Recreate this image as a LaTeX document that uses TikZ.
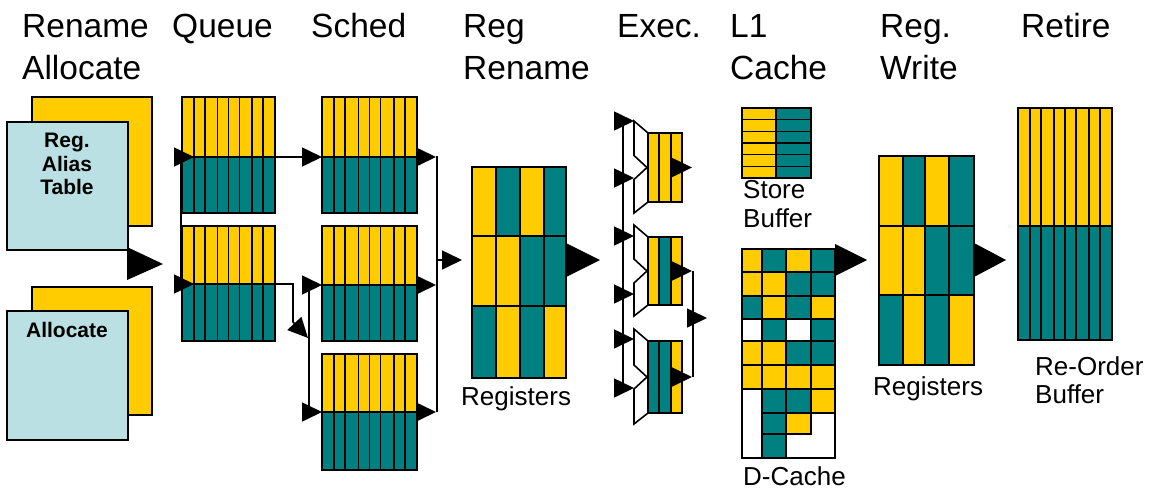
\documentclass[tikz,border=0pt]{standalone}
\usepackage{fontspec}
\setmainfont{Liberation Sans}
\usetikzlibrary{arrows.meta}
\definecolor{cy}{RGB}{255,204,0}
\definecolor{ct}{RGB}{0,128,128}
\definecolor{cb}{RGB}{187,224,227}
\newcommand{\stripblk}[5]{%
 \fill[cy] (#1,#3) rectangle (#2,#4);
 \fill[ct] (#1,#4) rectangle (#2,#5);
 \foreach \f in {0.128,0.245,0.383,0.5,0.617,0.755,0.872}
   {\draw[ln] ({#1+\f*(#2-#1)},#3) -- ({#1+\f*(#2-#1)},#5);}
 \draw[ln] (#1,#4) -- (#2,#4);
 \draw[ln] (#1,#3) rectangle (#2,#5);
}
\newcommand{\regblk}[9]{%
 \fill[cy] (#1,#6) rectangle (#2,#7); \fill[ct] (#2,#6) rectangle (#3,#7);
 \fill[cy] (#3,#6) rectangle (#4,#7); \fill[ct] (#4,#6) rectangle (#5,#7);
 \fill[cy] (#1,#7) rectangle (#3,#8); \fill[ct] (#3,#7) rectangle (#5,#8);
 \fill[ct] (#1,#8) rectangle (#2,#9); \fill[cy] (#2,#8) rectangle (#3,#9);
 \fill[ct] (#3,#8) rectangle (#4,#9); \fill[cy] (#4,#8) rectangle (#5,#9);
 \draw[ln] (#1,#7) -- (#5,#7) (#1,#8) -- (#5,#8);
 \draw[ln] (#2,#6) -- (#2,#9) (#3,#6) -- (#3,#9) (#4,#6) -- (#4,#9);
 \draw[ln] (#1,#6) rectangle (#5,#9);
}
\newcommand{\exblk}[5]{%
 \draw[ln,fill=white] (648,#1) -- (634,{#1-12}) -- (634,{(#1+#2)/2-12}) -- (647,{(#1+#2)/2})
   -- (634,{(#1+#2)/2+12}) -- (634,{#2+11}) -- (648,#2);
 \fill[#3] (648,#1) rectangle (659,#2);
 \fill[#4] (659,#1) rectangle (671,#2);
 \fill[#5] (671,#1) rectangle (682,#2);
 \draw[ln] (659,#1) -- (659,#2) (671,#1) -- (671,#2);
 \draw[ln] (648,#1) rectangle (682,#2);
 \draw[sarr] (672,{(#1+#2)/2}) -- (692,{(#1+#2)/2});
}
\begin{document}
\begin{tikzpicture}[x=1pt,y=-1pt,
 ln/.style={line width=1.6pt, line join=miter},
 sarr/.style={line width=1.6pt, -{Triangle[length=20pt,width=19pt]}},
 hd/.style={anchor=base west, inner sep=0pt, font=\fontsize{33.5}{40}\selectfont},
 lb/.style={anchor=base west, inner sep=0pt, font=\fontsize{26}{30}\selectfont},
 bt/.style={anchor=base, inner sep=0pt, font=\bfseries\fontsize{21}{24}\selectfont}]
\useasboundingbox (0,0) rectangle (1151,493);

% headers
\node[hd] (h1a) at (22,37) {Rename};
\node[hd] (h1b) at (22,79) {Allocate};
\node[hd] (h2) at (172,37) {Queue};
\node[hd] (h3) at (311,37) {Sched};
\node[hd] (h4a) at (463,37) {Reg};
\node[hd] (h4b) at (463,79) {Rename};
\node[hd] (h5) at (617,37) {Exec.};
\node[hd] (h6a) at (730,37) {L1};
\node[hd] (h6b) at (730,79) {Cache};
\node[hd] (h7a) at (880,37) {Reg.};
\node[hd] (h7b) at (880,79) {Write};
\node[hd] (h8) at (1021,37) {Retire};

% rename / allocate
\draw[ln,fill=cy] (32,97) rectangle (152,226);
\draw[ln,fill=cb] (7,122) rectangle (128,250);
\draw[ln,fill=cy] (32,287) rectangle (152,415);
\draw[ln,fill=cb] (7,311) rectangle (128,440);
\node[bt] (t1) at (67,147) {Reg.};
\node[bt] (t2) at (67,171) {Alias};
\node[bt] (t3) at (67,194) {Table};
\node[bt] (t4) at (67,337) {Allocate};
\fill (127,247) -- (163,264) -- (127,280) -- cycle;

% queues
\stripblk{182}{275}{97}{157}{213}
\stripblk{182}{275}{226}{284}{341}
\draw[ln] (181,157) -- (181,284);
\draw[sarr] (174,157) -- (194,157);
\draw[sarr] (174,284) -- (194,284);

% schedulers
\stripblk{322}{417}{97}{157}{213}
\stripblk{322}{417}{226}{285}{341}
\stripblk{322}{417}{354}{412}{470}
\draw[sarr] (275,157) -- (322,157);
\draw[sarr] (275,284) -- (293,284) -- (293,322) -- (308,338);
\draw[ln] (309,285) -- (309,412);
\draw[sarr] (302,285) -- (322,285);
\draw[sarr] (302,412) -- (322,412);
\foreach \yy in {157,285,412} {\draw[sarr] (416,\yy) -- (436,\yy);}
\draw[ln] (437,156) -- (437,412);
\draw[sarr] (437,260) -- (462,260);

% register rename
\regblk{472}{496}{520}{544}{566}{167}{236}{306}{378}
\node[lb] (rg1) at (461,405) {Registers};
\fill (566,243) -- (600,260) -- (566,277) -- cycle;

% execution
\draw[ln] (623,121) -- (623,388);
\exblk{133}{202}{cy}{cy}{cy}
\exblk{237}{305}{cy}{ct}{cy}
\exblk{341}{413}{ct}{ct}{cy}
\foreach \yy in {121,178,236,294,339,388} {\draw[sarr] (614,\yy) -- (634,\yy);}
\draw[ln] (693,271) -- (693,377);
\draw[sarr] (687,318) -- (707,318);

% store buffer
\fill[cy] (742,108) rectangle (776,178);
\fill[ct] (776,108) rectangle (811,178);
\foreach \i in {1,...,5} {\draw[ln] (742,{108+\i*70/6}) -- (811,{108+\i*70/6});}
\draw[ln] (776,108) -- (776,178);
\draw[ln] (742,108) rectangle (811,178);
\node[lb] (sb1) at (743,198) {Store};
\node[lb] (sb2) at (743,227) {Buffer};

% D-cache
\fill[white] (742,249) rectangle (835,458);
\foreach \ya/\yb/\ka/\kb/\kc/\kd in {249/272/cy/ct/cy/ct, 272/296/cy/cy/ct/ct,
   296/319/ct/cy/ct/cy, 319/341/white/ct/white/ct, 341/365/cy/cy/ct/ct, 365/389/cy/cy/cy/cy}{
  \draw[ln,fill=\ka] (742,\ya) rectangle (762,\yb);
  \draw[ln,fill=\kb] (762,\ya) rectangle (786,\yb);
  \draw[ln,fill=\kc] (786,\ya) rectangle (811,\yb);
  \draw[ln,fill=\kd] (811,\ya) rectangle (835,\yb);
}
\draw[ln,fill=ct] (762,389) rectangle (786,413);
\draw[ln,fill=ct] (786,389) rectangle (811,413);
\draw[ln,fill=cy] (811,389) rectangle (835,413);
\draw[ln,fill=ct] (762,413) rectangle (786,434);
\draw[ln,fill=cy] (786,413) rectangle (811,434);
\draw[ln,fill=ct] (762,434) rectangle (786,458);
\draw[ln] (742,249) rectangle (835,458);
\node[lb] (dc) at (743,485) {D-Cache};
\fill (835,244) -- (867,260) -- (835,276) -- cycle;

% register write
\regblk{879}{903}{925}{949}{974}{156}{226}{295}{365}
\node[lb] (rg2) at (873,395) {Registers};
\fill (974,243) -- (1006,260) -- (974,277) -- cycle;

% reorder buffer
\stripblk{1018}{1112}{108}{226}{340}
\node[lb] (rob1) at (1035,375) {Re-Order};
\node[lb] (rob2) at (1035,403) {Buffer};
\end{tikzpicture}
\end{document}
